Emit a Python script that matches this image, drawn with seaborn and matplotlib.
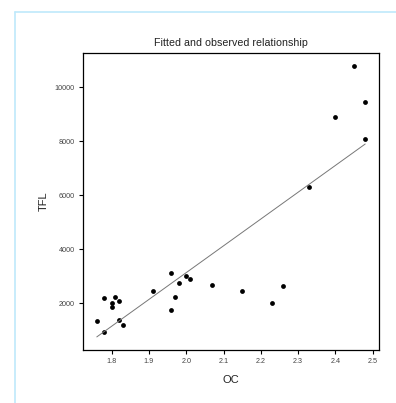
import matplotlib
matplotlib.use("Agg")
import matplotlib.pyplot as plt
import seaborn as sns
import pandas as pd
from matplotlib.lines import Line2D

oc = [1.76, 1.78, 1.78, 1.80, 1.80, 1.81, 1.82, 1.82, 1.83, 1.91, 1.96, 1.96,
      1.97, 1.98, 2.00, 2.01, 2.07, 2.15, 2.23, 2.26, 2.33, 2.40, 2.45, 2.48, 2.48]
tfl = [1330, 2185, 930, 2000, 1875, 2220, 2085, 1370, 1185, 2465, 3110, 1750,
       2245, 2765, 3010, 2900, 2665, 2445, 2020, 2640, 6310, 8890, 10800, 9455, 8095]
xticks = [1.8, 1.9, 2.0, 2.1, 2.2, 2.3, 2.4, 2.5]
yticks = [2000, 4000, 6000, 8000, 10000]

df = pd.DataFrame({"OC": oc, "TFL": tfl})

sns.set_style("white")
plt.rcParams['font.family'] = ['Liberation Sans', 'DejaVu Sans']

fig = plt.figure(figsize=(3.96, 4.03), dpi=100)
ax = fig.add_axes([83/396, 1-350/403, (379-83)/396, (350-53)/403])

sns.regplot(data=df, x="OC", y="TFL", ax=ax, ci=None, truncate=True,
            scatter_kws=dict(color="black", s=12, linewidths=0, alpha=1),
            line_kws=dict(color="#777777", linewidth=0.7))

ax.set_xlim(1.723, 2.517)
ax.set_ylim(270, 11270)
ax.set_xticks(xticks)
ax.set_xticklabels([f"{v:.1f}" for v in xticks])
ax.set_yticks(yticks)
ax.set_yticklabels([str(v) for v in yticks])
ax.tick_params(axis="both", labelsize=5.2, colors="black", labelcolor="#444444",
               direction="out", length=3, width=0.8, bottom=True, left=True, pad=3)
for s in ax.spines.values():
    s.set_color("black")
    s.set_linewidth(0.9)
ax.set_xlabel("OC", fontsize=8, labelpad=7, color="#222222")
ax.set_ylabel("TFL", fontsize=8, labelpad=4, color="#222222")
ax.set_title("Fitted and observed relationship", fontsize=7.7, pad=5, color="#222222")

W, H = 396, 403
fig.add_artist(Line2D([15/W, 1], [1-12/H, 1-12/H], transform=fig.transFigure,
                      color="#bfe9fb", linewidth=1.2))
fig.add_artist(Line2D([15/W, 15/W], [0, 1-12/H], transform=fig.transFigure,
                      color="#bfe9fb", linewidth=1.2))

fig.savefig("out.png", dpi=100)
